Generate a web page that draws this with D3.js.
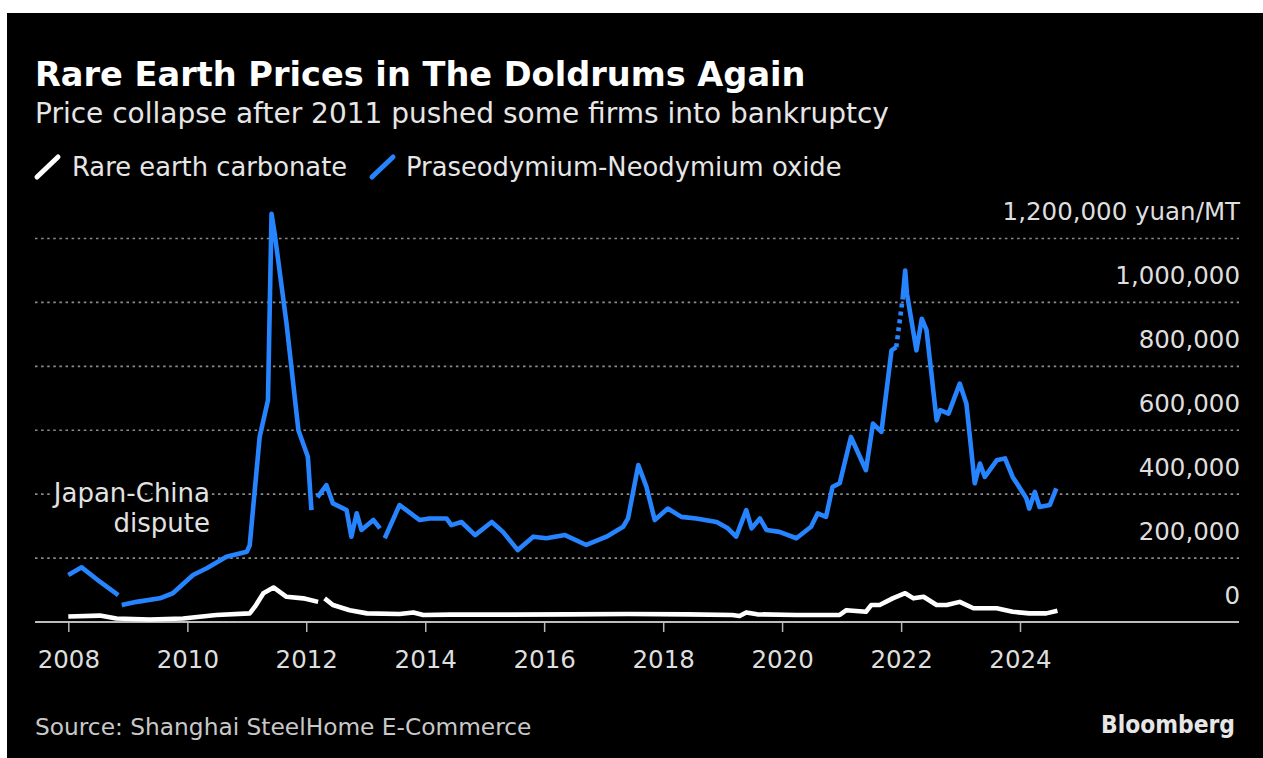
<!DOCTYPE html>
<html>
<head>
<meta charset="utf-8">
<script src="https://cdn.jsdelivr.net/npm/d3@7"></script>
<style>
  html, body { margin: 0; padding: 0; background: #ffffff; }
  svg { display: block; }
  text { font-family: "DejaVu Sans", Verdana, sans-serif; }
</style>
</head>
<body>
<svg id="chart" width="1263" height="758"></svg>
<script>
// ---- Data (yuan per metric ton) ----
// Praseodymium-Neodymium oxide; null marks a break in the series
const prndDates = [
  "2008-01-01","2008-03-23","2008-07-13","2008-11-03",null,
  "2008-11-24","2009-02-24","2009-07-16","2009-10-04","2010-02-05","2010-04-30","2010-08-29",
  "2011-01-01","2011-01-19","2011-03-21","2011-05-11","2011-06-02","2011-06-21","2011-09-02",
  "2011-11-14","2012-01-11","2012-02-02",null,
  "2012-03-10","2012-05-04","2012-06-13","2012-09-05","2012-10-04","2012-11-06","2012-12-05",
  "2013-02-16","2013-03-29",null,
  "2013-04-27","2013-07-27","2013-11-28","2014-01-26","2014-05-11","2014-06-10","2014-08-11",
  "2014-11-03","2015-02-13","2015-04-23","2015-07-23","2015-10-26","2016-01-15","2016-05-08",
  "2016-09-16","2017-01-18","2017-04-30","2017-05-30","2017-08-01","2017-09-20","2017-11-10",
  "2018-01-29","2018-04-23","2018-07-23","2018-11-25","2019-02-02","2019-03-25","2019-05-26",
  "2019-06-28","2019-08-18","2019-09-27","2019-12-16","2020-03-29","2020-06-27","2020-08-07",
  "2020-09-27","2020-11-06","2020-12-20","2021-02-27","2021-05-30","2021-07-12","2021-09-02",
  "2021-11-03","2021-12-02",null,
  "2022-01-10","2022-01-26","2022-02-06","2022-04-05","2022-05-08","2022-06-06","2022-08-07",
  "2022-08-29","2022-10-19","2022-12-27","2023-02-06","2023-03-29","2023-04-30","2023-05-30",
  "2023-08-11","2023-10-01","2023-11-17","2024-02-09","2024-02-27","2024-04-01","2024-04-30",
  "2024-07-02","2024-08-11"
];
const prndValues = [
  147000,171000,126000,84000,null,
  53000,63000,74000,90000,147000,168000,204000,
  220000,240000,579000,694000,1277000,1216000,934000,
  600000,517000,350000,null,
  390000,428000,371000,350000,267000,340000,288000,
  319000,293000,null,
  262000,366000,319000,324000,324000,303000,313000,
  272000,313000,282000,225000,267000,262000,272000,
  241000,267000,298000,324000,491000,423000,319000,
  355000,329000,324000,313000,293000,267000,350000,
  293000,324000,288000,282000,262000,298000,340000,
  329000,423000,434000,579000,475000,621000,595000,
  850000,860000,null,
  1010000,1100000,1027000,850000,949000,913000,631000,
  663000,652000,746000,683000,434000,496000,454000,
  506000,512000,454000,387000,355000,407000,360000,
  366000,418000
];
// Estimated stretch of the oxide series, drawn dotted
const prndEstDates = ["2021-12-02","2022-01-10"];
const prndEstValues = [860000,1010000];

// Rare earth carbonate
const carbDates = [
  "2008-01-01","2008-07-13","2008-10-23","2009-05-15","2009-12-06","2010-06-28","2011-01-19",
  "2011-02-20","2011-04-13","2011-06-14","2011-09-02","2011-12-14","2012-03-14",null,
  "2012-04-23","2012-06-13","2012-09-24","2013-01-08","2013-07-27","2013-10-20","2013-12-20",
  "2014-06-01","2015-06-01","2016-06-01","2017-06-01","2018-06-01","2019-03-01","2019-04-15",
  "2019-05-26","2019-08-01","2020-03-29","2020-12-20","2021-01-30","2021-05-30","2021-07-01",
  "2021-08-22","2021-11-10","2022-01-26","2022-03-18","2022-05-19","2022-08-07","2022-10-08",
  "2022-12-27","2023-03-21","2023-08-11","2023-11-17","2024-02-27","2024-06-10","2024-08-18"
];
const carbValues = [
  17000,20000,11000,8000,11000,22000,27000,
  48000,90000,108000,79000,74000,63000,null,
  74000,53000,37000,27000,25000,30000,22000,
  23000,23000,24000,25000,24000,22000,19000,
  30000,24000,22000,22000,37000,32000,53000,
  53000,74000,90000,74000,79000,53000,53000,
  63000,43000,43000,32000,27000,27000,35000
];

const yTicks = [0, 200000, 400000, 600000, 800000, 1000000, 1200000];
const xTickYears = [2008, 2010, 2012, 2014, 2016, 2018, 2020, 2022, 2024];

const titleText = "Rare Earth Prices in The Doldrums Again";
const subtitleText = "Price collapse after 2011 pushed some firms into bankruptcy";
const legendLabels = ["Rare earth carbonate", "Praseodymium-Neodymium oxide"];
const unitLabel = "yuan/MT";
const noteLines = ["Japan-China", "dispute"];
const sourceText = "Source: Shanghai SteelHome E-Commerce";

// ---- Drawing ----
const svg = d3.select("#chart");
const BLUE = "#2684ff";
const WHITE = "#ffffff";
const parse = d3.timeParse("%Y-%m-%d");

// black card
svg.append("rect").attr("x", 7).attr("y", 13).attr("width", 1263 - 7).attr("height", 758 - 13)
  .attr("fill", "#000");

const plotLeft = 35, plotRight = 1239;
const x = d3.scaleTime()
  .domain([new Date(2008, 0, 1), new Date(2024, 0, 1)])
  .range([68.3, 1020]);
const y = d3.scaleLinear().domain([0, 1200000]).range([622, 238.5]);

// gridlines
svg.append("g").selectAll("line")
  .data(yTicks.filter(d => d > 0))
  .join("line")
  .attr("x1", plotLeft).attr("x2", plotRight)
  .attr("y1", d => y(d)).attr("y2", d => y(d))
  .attr("stroke", "#8c8c8c").attr("stroke-width", 1.6)
  .attr("stroke-dasharray", "2.5,3.6");

// y labels (sit above their gridline, right aligned)
const fmt = d3.format(",");
svg.append("g").selectAll("text")
  .data(yTicks)
  .join("text")
  .attr("x", 1240).attr("y", d => y(d) - 18.5)
  .attr("text-anchor", "end")
  .attr("font-size", 24.5).attr("fill", "#dedede")
  .text(d => d === 1200000 ? fmt(d) + " " + unitLabel : fmt(d));

// x axis
const xAxis = d3.axisBottom(x)
  .tickValues(xTickYears.map(yr => new Date(yr, 0, 1)))
  .tickFormat(d3.timeFormat("%Y"))
  .tickSize(10).tickSizeOuter(0);
const gx = svg.append("g").attr("transform", "translate(0,622)").call(xAxis);
gx.select(".domain").remove();
gx.selectAll(".tick line").attr("stroke", "#b5b5b5").attr("stroke-width", 1.5);
gx.selectAll(".tick text")
  .attr("y", 46).attr("dy", 0)
  .attr("font-size", 24.5).attr("fill", "#dedede")
  .attr("font-family", "DejaVu Sans");
svg.append("line")
  .attr("x1", plotLeft).attr("x2", plotRight).attr("y1", 622).attr("y2", 622)
  .attr("stroke", "#bdbdbd").attr("stroke-width", 2.2);

// series
function pts(dates, values) {
  return dates.map((d, i) => ({ date: d ? parse(d) : null, value: values[i] }));
}
const line = d3.line()
  .defined(d => d.date !== null && d.value !== null)
  .x(d => x(d.date)).y(d => y(d.value));

svg.append("path")
  .datum(pts(carbDates, carbValues))
  .attr("d", line)
  .attr("fill", "none").attr("stroke", WHITE).attr("stroke-width", 4.6)
  .attr("stroke-linejoin", "round").attr("stroke-linecap", "butt");

svg.append("path")
  .datum(pts(prndDates, prndValues))
  .attr("d", line)
  .attr("fill", "none").attr("stroke", BLUE).attr("stroke-width", 4.6)
  .attr("stroke-linejoin", "round").attr("stroke-linecap", "butt");

svg.append("path")
  .datum(pts(prndEstDates, prndEstValues))
  .attr("d", line)
  .attr("fill", "none").attr("stroke", BLUE).attr("stroke-width", 4.6)
  .attr("stroke-dasharray", "4,4");

// annotation
const note = svg.append("text")
  .attr("text-anchor", "end").attr("font-size", 26).attr("fill", "#e2e2e2")
  .attr("stroke", "#000").attr("stroke-width", 7).attr("paint-order", "stroke")
  .attr("stroke-linejoin", "round");
noteLines.forEach((t, i) => {
  note.append("tspan").attr("x", 210).attr("y", 502 + i * 29.5).text(t);
});

// title, subtitle
svg.append("text").attr("x", 35).attr("y", 85.5)
  .attr("font-size", 33.6).attr("font-weight", "bold").attr("fill", "#ffffff")
  .text(titleText);
svg.append("text").attr("x", 35).attr("y", 123)
  .attr("font-size", 28).attr("fill", "#e6e6e6")
  .text(subtitleText);

// legend
const legendItems = [
  { label: legendLabels[0], color: WHITE, x: 37, tx: 72 },
  { label: legendLabels[1], color: BLUE, x: 372, tx: 406 }
];
const lg = svg.append("g");
legendItems.forEach(it => {
  lg.append("line")
    .attr("x1", it.x).attr("y1", 177).attr("x2", it.x + 21).attr("y2", 157)
    .attr("stroke", it.color).attr("stroke-width", 5).attr("stroke-linecap", "round");
  lg.append("text").attr("x", it.tx).attr("y", 176)
    .attr("font-size", 25.8).attr("fill", "#e6e6e6").text(it.label);
});

// footer
svg.append("text").attr("x", 35).attr("y", 735)
  .attr("font-size", 23.3).attr("fill", "#c8c8c8").text(sourceText);
svg.append("text").attr("x", 1101).attr("y", 733)
  .attr("font-size", 24).attr("font-weight", "bold")
  .attr("font-family", "DejaVu Sans Condensed, DejaVu Sans")
  .attr("textLength", 134).attr("lengthAdjust", "spacingAndGlyphs")
  .attr("fill", "#e6e6e6").text("Bloomberg");
</script>
</body>
</html>
